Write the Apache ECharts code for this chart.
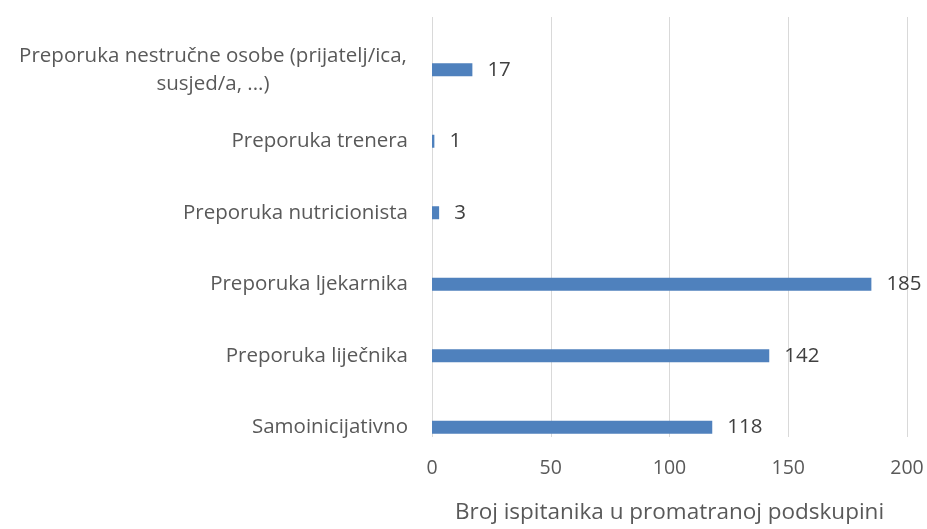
<!DOCTYPE html>
<html>
<head>
<meta charset="utf-8">
<script src="https://cdn.jsdelivr.net/npm/echarts@6/dist/echarts.min.js"></script>
<style>
  html, body { margin: 0; padding: 0; background: #fff; }
  #chart { width: 927px; height: 529px; }
</style>
</head>
<body>
<div id="chart"></div>
<script>
// bottom to top, as the category axis draws them
const categories = [
  'Samoinicijativno',
  'Preporuka liječnika',
  'Preporuka ljekarnika',
  'Preporuka nutricionista',
  'Preporuka trenera',
  'Preporuka nestručne osobe (prijatelj/ica,\nsusjed/a, ...)'
]
const counts = [118, 142, 185, 3, 1, 17]
const xTicks = [0, 50, 100, 150, 200]
const axisTitle = 'Broj ispitanika u promatranoj podskupini'

const font = '"Open Sans", Lato, sans-serif'
const chart = echarts.init(document.getElementById('chart'))

chart.setOption({
  animation: false,
  grid: [
    // grid lines + value axis
    { left: 432, right: 20, top: 17, height: 428 },
    // bars + category labels (Excel puts the bands a bit lower than the grid lines)
    { left: 432, right: 20, top: 34, height: 429 }
  ],
  xAxis: [{
    gridIndex: 0,
    type: 'value',
    min: xTicks[0],
    max: xTicks[xTicks.length - 1],
    interval: xTicks[1] - xTicks[0],
    axisLine: { show: false },
    axisTick: { show: false },
    splitLine: { lineStyle: { color: '#d9d9d9', width: 1 } },
    axisLabel: { color: '#595959', fontSize: 19.5, fontFamily: font, margin: 21 },
    name: axisTitle,
    nameLocation: 'middle',
    nameGap: 64,
    nameTextStyle: { color: '#595959', fontSize: 22.5, fontFamily: font }
  }, {
    gridIndex: 1,
    type: 'value',
    min: xTicks[0],
    max: xTicks[xTicks.length - 1],
    show: false
  }],
  yAxis: [{
    gridIndex: 0,
    type: 'category',
    data: categories,
    show: false
  }, {
    gridIndex: 1,
    type: 'category',
    data: categories,
    axisLine: { show: false },
    axisTick: { show: false },
    axisLabel: {
      color: '#595959',
      fontSize: 20.5,
      fontFamily: font,
      margin: 24,
      lineHeight: 28,
      formatter: function (v) {
        if (v.indexOf('\n') < 0) return v
        return v.split('\n').map(s => '{c|' + s + '}').join('\n')
      },
      rich: {
        c: { align: 'center', width: 390, color: '#595959', fontSize: 20.5, fontFamily: font, lineHeight: 28 }
      }
    }
  }],
  series: [{
    type: 'bar',
    xAxisIndex: 1,
    yAxisIndex: 1,
    data: counts,
    barWidth: 13,
    itemStyle: { color: '#4f81bd' },
    label: {
      show: true,
      position: 'right',
      distance: 15,
      color: '#404040',
      fontSize: 20.5,
      fontFamily: font
    }
  }]
})
</script>
</body>
</html>
